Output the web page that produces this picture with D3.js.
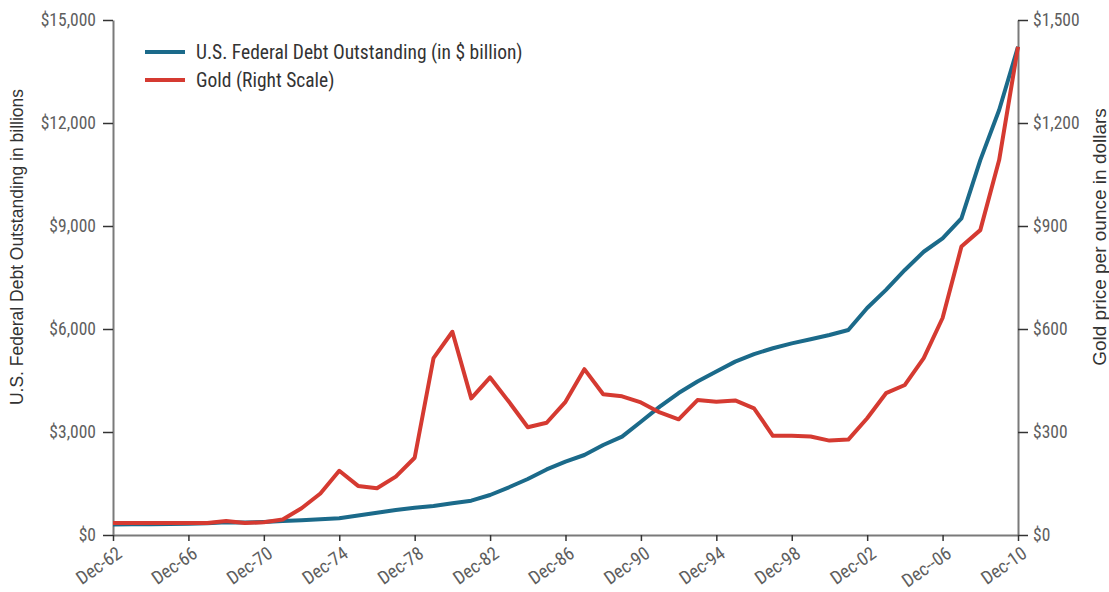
<!DOCTYPE html>
<html><head><meta charset="utf-8">
<script src="https://cdn.jsdelivr.net/npm/d3@7"></script>
<style>
body{margin:0;background:#fff;}
svg{display:block;}
text{font-family:"Roboto Condensed","Liberation Sans Narrow","Arial Narrow",sans-serif;}
.title{font-family:"Liberation Sans",Arial,sans-serif;}
</style></head><body>
<svg id="chart" width="1109" height="592"></svg>
<script>
const years = d3.range(1962, 2011);
const tickYears = [1962,1966,1970,1974,1978,1982,1986,1990,1994,1998,2002,2006,2010];
const tickLabels = ["Dec-62","Dec-66","Dec-70","Dec-74","Dec-78","Dec-82","Dec-86","Dec-90","Dec-94","Dec-98","Dec-02","Dec--06","Dec-10"];
const debtTicks = [0,3000,6000,9000,12000,15000];
const goldTicks = [0,300,600,900,1200,1500];
// U.S. Federal Debt Outstanding ($ billion), Dec-62 .. Dec-10
const debt = [303,310,316,322,328,340,369,366,381,408,430,460,490,570,650,728,795,845,923,1000,1165,1390,1630,1910,2135,2330,2620,2865,3300,3740,4135,4470,4760,5050,5270,5440,5580,5700,5825,5970,6610,7140,7720,8250,8640,9225,10920,12380,14220];
// Gold price per ounce ($), Dec-62 .. Dec-10
const gold = [35,35,35,35,35,35,41,35,37,45,78,121,187,143,136,170,225,515,592,398,459,388,314,327,388,483,410,404,386,357,337,393,388,392,369,289,289,287,275,278,340,413,437,515,632,840,888,1092,1422];

const svg = d3.select("#chart");
const x0 = 113, x1 = 1018, yTop = 20, yBot = 535;
const x = d3.scaleLinear().domain([1962, 2010]).range([x0, x1]);
const yL = d3.scaleLinear().domain([0, 15000]).range([yBot, yTop]);
const yR = d3.scaleLinear().domain([0, 1500]).range([yBot, yTop]);

const axisColor = "#7a7a7a", labelColor = "#5e5e5e";

function styleAxis(g, fs){
  g.select(".domain").attr("stroke", axisColor).attr("stroke-width", 2);
  g.selectAll(".tick line").attr("stroke", "#333").attr("stroke-width", 1.5);
  g.selectAll(".tick text").attr("fill", labelColor).style("font-size", fs + "px");
}

// left axis
const gL = svg.append("g").attr("transform", `translate(${x0},0)`)
  .call(d3.axisLeft(yL).tickValues(debtTicks).tickSize(10).tickSizeOuter(0).tickPadding(7)
    .tickFormat(d => "$" + d3.format(",")(d)));
styleAxis(gL, 17.5);

// right axis
const gR = svg.append("g").attr("transform", `translate(${x1},0)`)
  .call(d3.axisRight(yR).tickValues(goldTicks).tickSize(10).tickSizeOuter(0).tickPadding(5)
    .tickFormat(d => "$" + d3.format(",")(d)));
styleAxis(gR, 17.5);

// bottom axis
const gB = svg.append("g").attr("transform", `translate(0,${yBot})`)
  .call(d3.axisBottom(x).tickValues(tickYears).tickSize(6).tickSizeOuter(0)
    .tickFormat((d,i) => tickLabels[i]));
styleAxis(gB, 18.5);
gB.selectAll(".tick text")
  .attr("text-anchor", "end")
  .attr("dy", "0.35em")
  .attr("y", 0).attr("x", 0)
  .attr("transform", "translate(6,16) rotate(-35)");

// lines
const lineL = d3.line().x((d,i) => x(years[i])).y(d => yL(d));
const lineR = d3.line().x((d,i) => x(years[i])).y(d => yR(d));
svg.append("path").datum(debt).attr("d", lineL)
  .attr("fill", "none").attr("stroke", "#1b6a8a").attr("stroke-width", 4).attr("stroke-linejoin", "round");
svg.append("path").datum(gold).attr("d", lineR)
  .attr("fill", "none").attr("stroke", "#d53a31").attr("stroke-width", 4).attr("stroke-linejoin", "round");

// axis titles
svg.append("text").attr("class", "title").attr("transform", "translate(17,247) rotate(-90)")
  .attr("text-anchor", "middle").attr("dy", "0.35em").attr("fill", "#333").style("font-size", "17.5px")
  .text("U.S. Federal Debt Outstanding in billions");
svg.append("text").attr("class", "title").attr("transform", "translate(1099,237) rotate(-90)")
  .attr("text-anchor", "middle").attr("dy", "0.35em").attr("fill", "#333").style("font-size", "19px")
  .text("Gold price per ounce in dollars");

// legend
const legend = [
  {label: "U.S. Federal Debt Outstanding (in $ billion)", color: "#1b6a8a"},
  {label: "Gold (Right Scale)", color: "#d53a31"}
];
const lg = svg.append("g");
legend.forEach((d, i) => {
  const yy = 52 + i * 28;
  lg.append("line").attr("x1", 145).attr("x2", 185).attr("y1", yy).attr("y2", yy)
    .attr("stroke", d.color).attr("stroke-width", 4);
  lg.append("text").attr("x", 196).attr("y", yy).attr("dy", "0.35em")
    .attr("fill", "#333").style("font-size", "19.5px").text(d.label);
});
</script>
</body></html>
